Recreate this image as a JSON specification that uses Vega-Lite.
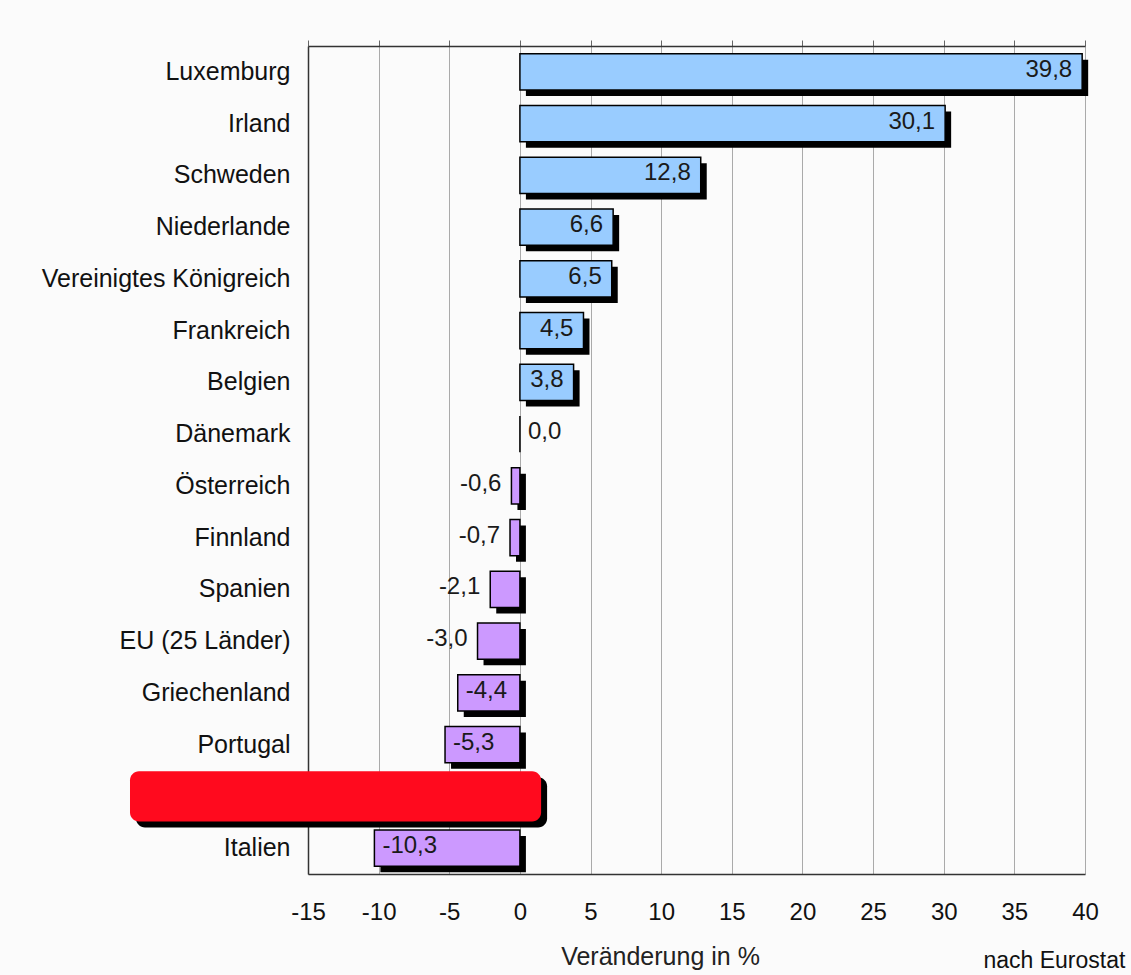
{
  "$schema": "https://vega.github.io/schema/vega-lite/v6.json",
  "width": 777,
  "height": 828,
  "autosize": "none",
  "padding": {"left": 308, "top": 46, "right": 46, "bottom": 101},
  "background": "#fbfbfb",
  "config": {
    "view": {"stroke": null},
    "font": "Liberation Sans",
    "locale": {"number": {"decimal": ",", "thousands": ".", "grouping": [3], "currency": ["", " €"], "minus": "-"}}
  },
  "title": {"text": "nach Eurostat", "orient": "bottom", "anchor": "end", "fontSize": 23, "fontWeight": "normal", "color": "#111", "font": "Liberation Sans", "dx": 27, "offset": -19},
  "datasets": {
    "bars": [
      {"land": "Luxemburg", "v": 39.8},
      {"land": "Irland", "v": 30.1},
      {"land": "Schweden", "v": 12.8},
      {"land": "Niederlande", "v": 6.6},
      {"land": "Vereinigtes Königreich", "v": 6.5},
      {"land": "Frankreich", "v": 4.5},
      {"land": "Belgien", "v": 3.8},
      {"land": "Dänemark", "v": 0.0},
      {"land": "Österreich", "v": -0.6},
      {"land": "Finnland", "v": -0.7},
      {"land": "Spanien", "v": -2.1},
      {"land": "EU (25 Länder)", "v": -3.0},
      {"land": "Griechenland", "v": -4.4},
      {"land": "Portugal", "v": -5.3},
      {"land": "Italien", "v": -10.3}
    ],
    "overlay": [
      {"land": " ", "von": -27.6, "bis": 1.5}
    ]
  },
  "resolve": {"axis": {"x": "independent"}},
  "layer": [
    {
      "data": {"name": "bars"},
      "mark": {"type": "bar", "fill": "#000000", "height": {"band": 0.7}, "xOffset": 6, "x2Offset": 6, "yOffset": 6, "y2Offset": 6},
      "encoding": {
        "y": {
          "field": "land", "type": "nominal",
          "scale": {"domain": ["Luxemburg", "Irland", "Schweden", "Niederlande", "Vereinigtes Königreich", "Frankreich", "Belgien", "Dänemark", "Österreich", "Finnland", "Spanien", "EU (25 Länder)", "Griechenland", "Portugal", " ", "Italien"], "paddingInner": 0, "paddingOuter": 0},
          "axis": {"orient": "left", "title": null, "domain": true, "domainColor": "#333", "domainWidth": 1.5, "ticks": false, "labelPadding": 18, "labelFontSize": 25, "labelLimit": 400, "labelColor": "#111", "labelFont": "Liberation Sans", "grid": false}
        },
        "x": {
          "field": "v", "type": "quantitative",
          "scale": {"domain": [-15, 40], "nice": false, "zero": false},
          "axis": {"orient": "bottom", "values": [-15, -10, -5, 0, 5, 10, 15, 20, 25, 30, 35, 40], "format": "d", "labelFlush": false, "grid": true, "gridColor": "#aaaaaa", "gridWidth": 1, "domain": true, "domainColor": "#333", "domainWidth": 1.5, "ticks": false, "labelPadding": 26, "labelFontSize": 24, "labelColor": "#111", "labelFont": "Liberation Sans", "title": "Veränderung in %", "titleFontSize": 25, "titleFontWeight": "normal", "titleColor": "#222", "titleFont": "Liberation Sans", "titlePadding": 20, "titleX": 352}
        },
        "x2": {"datum": 0}
      }
    },
    {
      "data": {"name": "bars"},
      "mark": {"type": "bar", "height": {"band": 0.7}, "stroke": "#000000", "strokeWidth": 1.5},
      "encoding": {
        "y": {"field": "land", "type": "nominal"},
        "x": {
          "field": "v", "type": "quantitative",
          "axis": {"orient": "top", "values": [-15, -10, -5, 0, 5, 10, 15, 20, 25, 30, 35, 40], "labels": false, "ticks": true, "tickSize": 6, "tickColor": "#666", "domain": true, "domainColor": "#333", "domainWidth": 1.5, "grid": false, "title": null}
        },
        "x2": {"datum": 0},
        "fill": {"condition": {"test": "datum.v >= 0", "value": "#99ccff"}, "value": "#cc99ff"}
      }
    },
    {
      "data": {"name": "bars"},
      "transform": [{"filter": "datum.v > 0.5 || (datum.v < 0 && datum.v > -3.5)"}],
      "mark": {"type": "text", "align": "right", "baseline": "middle", "dx": -10, "dy": -2, "fontSize": 24, "color": "#1a1a1a", "font": "Liberation Sans"},
      "encoding": {
        "y": {"field": "land", "type": "nominal"},
        "x": {"field": "v", "type": "quantitative", "axis": null},
        "text": {"field": "v", "type": "quantitative", "format": ".1f"}
      }
    },
    {
      "data": {"name": "bars"},
      "transform": [{"filter": "datum.v == 0 || datum.v < -3.5"}],
      "mark": {"type": "text", "align": "left", "baseline": "middle", "dx": 8, "dy": -2, "fontSize": 24, "color": "#1a1a1a", "font": "Liberation Sans"},
      "encoding": {
        "y": {"field": "land", "type": "nominal"},
        "x": {"field": "v", "type": "quantitative", "axis": null},
        "text": {"field": "v", "type": "quantitative", "format": ".1f"}
      }
    },
    {
      "data": {"name": "overlay"},
      "mark": {"type": "bar", "fill": "#000000", "cornerRadius": 9, "height": {"band": 0.97}, "xOffset": 6, "x2Offset": 6, "yOffset": 6, "y2Offset": 6},
      "encoding": {
        "y": {"field": "land", "type": "nominal"},
        "x": {"field": "von", "type": "quantitative", "axis": null},
        "x2": {"field": "bis"}
      }
    },
    {
      "data": {"name": "overlay"},
      "mark": {"type": "bar", "fill": "#ff0a1e", "cornerRadius": 9, "height": {"band": 0.97}},
      "encoding": {
        "y": {"field": "land", "type": "nominal"},
        "x": {"field": "von", "type": "quantitative", "axis": null},
        "x2": {"field": "bis"}
      }
    }
  ]
}
